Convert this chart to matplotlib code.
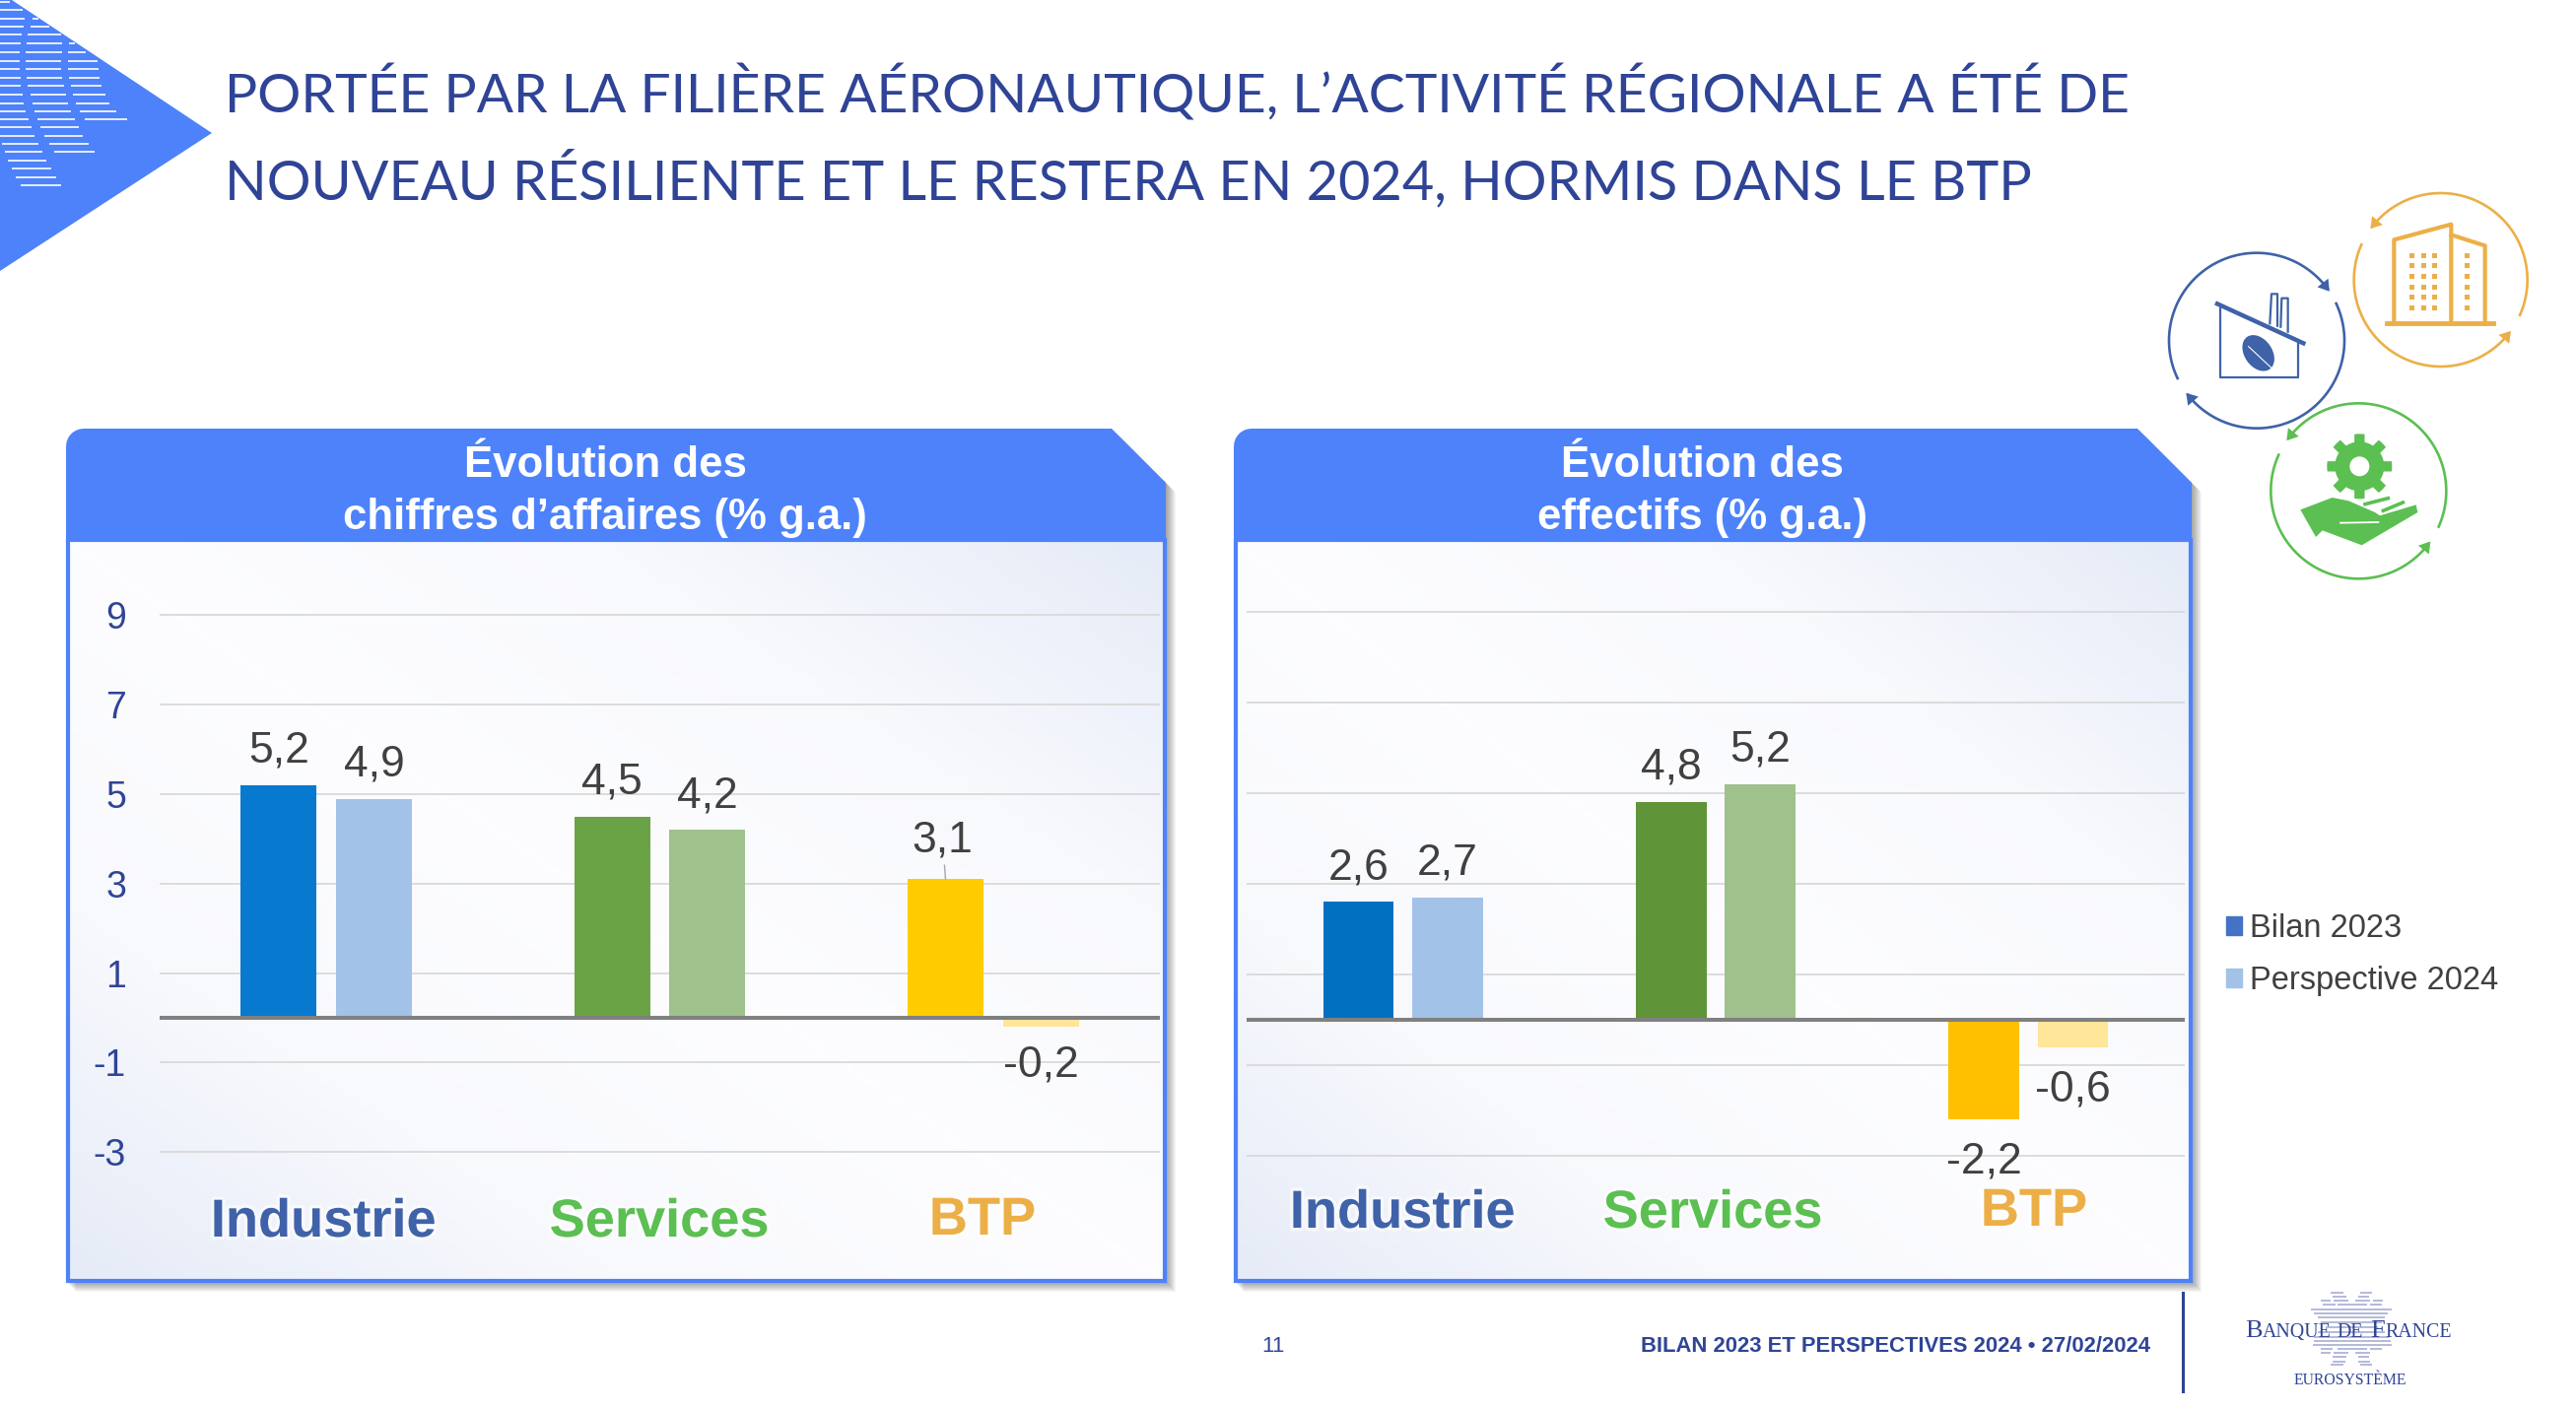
import numpy as np
import matplotlib
matplotlib.use('Agg')
import matplotlib.pyplot as plt
import matplotlib.patheffects as pe
from matplotlib.patches import Patch, Polygon, Rectangle, Ellipse, Circle
from matplotlib.colors import LinearSegmentedColormap

# chart data
categories = ['Industrie', 'Services', 'BTP']
series_names = ['Bilan 2023', 'Perspective 2024']
ca_2023 = [5.2, 4.5, 3.1]
ca_2024 = [4.9, 4.2, -0.2]
eff_2023 = [2.6, 4.8, -2.2]
eff_2024 = [2.7, 5.2, -0.6]
y_ticks = [-3, -1, 1, 3, 5, 7, 9]
ca_colors_2023 = ['#0779CF', '#6AA345', '#FFCC00']
eff_colors_2023 = ['#0070C0', '#5F9538', '#FFC000']
colors_2024 = ['#A3C2E8', '#9FC18C', '#FFE699']
cat_colors = ['#3F62A8', '#5BBF52', '#ECAF47']

title_lines = ['PORTÉE PAR LA FILIÈRE AÉRONAUTIQUE, L’ACTIVITÉ RÉGIONALE A ÉTÉ DE',
               'NOUVEAU RÉSILIENTE ET LE RESTERA EN 2024, HORMIS DANS LE BTP']
footer_text = 'BILAN 2023 ET PERSPECTIVES 2024 • 27/02/2024'

W, H = 2614, 1430
BLUE = '#4D82FB'
NAVY = '#2F4496'
SANS = 'Liberation Sans'

fig = plt.figure(figsize=(W / 100, H / 100), dpi=100, facecolor='white')

# pixel overlays, one behind the charts and one in front
back = fig.add_axes([0, 0, 1, 1], zorder=0)
front = fig.add_axes([0, 0, 1, 1], zorder=5)
for a in (back, front):
    a.set_xlim(0, W)
    a.set_ylim(H, 0)
    a.axis('off')
    a.patch.set_alpha(0)


def draw_corner_triangle():
    back.add_patch(Polygon([(0, -8), (215, 135), (0, 275)], color=BLUE, lw=0))
    rows = [(5, [(0, 30)]), (30, [(0, 70)]), (56, [(0, 75), (100, 118)]),
            (81, [(0, 72), (92, 150)]), (106, [(0, 66), (85, 185)]),
            (133, [(0, 62), (80, 190), (210, 228)]), (159, [(0, 60), (78, 188), (208, 262)]),
            (185, [(0, 60), (77, 186), (207, 298)]), (211, [(0, 60), (78, 187), (208, 299)]),
            (236, [(0, 62), (80, 190), (210, 303)]), (262, [(0, 64), (83, 195), (215, 310)]),
            (289, [(0, 68), (92, 201), (222, 320)]), (314, [(0, 73), (98, 208), (231, 334)]),
            (339, [(0, 79), (106, 217), (242, 355)]), (363, [(0, 87), (114, 228), (257, 387)]),
            (388, [(0, 95), (124, 239)]), (413, [(0, 105), (136, 252)]),
            (439, [(6, 116), (150, 269)]), (463, [(15, 128), (164, 288)]),
            (489, [(25, 141)]), (514, [(37, 155)]), (539, [(49, 171)]), (565, [(62, 187)])]
    for y, segs in rows:
        for x0, x1 in segs:
            back.plot([x0 / 3, x1 / 3], [y / 3, y / 3], color='white', lw=1.2, solid_capstyle='butt')


def draw_panel(x0, x1, title):
    top, head_bot, bot = 435, 548, 1301
    outline = [(x0 + 18, top), (x1 - 55, top), (x1, top + 55), (x1, bot), (x0, bot), (x0, top + 18)]
    for k in range(1, 11):
        shadow = [(x + k, y + k) for x, y in outline]
        back.add_patch(Polygon(shadow, color='black', alpha=0.04, lw=0))

    # pale diagonal gradient of the body
    u, v = np.meshgrid(np.linspace(0, 1, 200), np.linspace(0, 1, 120))
    cmap = LinearSegmentedColormap.from_list('body', ['#FDFDFF', '#F8F9FD', '#E5EBF7'])
    back.imshow(np.abs(u - v), cmap=cmap, vmin=0, vmax=1, extent=(x0, x1, bot, head_bot),
                aspect='auto', zorder=1)
    back.set_xlim(0, W)
    back.set_ylim(H, 0)
    back.add_patch(Rectangle((x0 + 1.5, head_bot), x1 - x0 - 3, bot - head_bot - 1.5, fill=False,
                             ec=BLUE, lw=3, zorder=2))

    t = np.linspace(0, np.pi / 2, 8)
    corner = [(x0 + 18 - 18 * np.cos(a), top + 18 - 18 * np.sin(a)) for a in t]
    header = [(x0, head_bot)] + corner + [(x1 - 55, top), (x1, top + 55), (x1, head_bot)]
    back.add_patch(Polygon(header, color=BLUE, lw=0, zorder=3))

    cx = (x0 + x1) / 2 - 11
    front.text(cx, 473, title[0], color='white', fontsize=31.5, fontweight='bold', family=SANS,
               ha='center', va='center')
    front.text(cx, 525, title[1], color='white', fontsize=31.5, fontweight='bold', family=SANS,
               ha='center', va='center')


def draw_chart(x0, x1, zero_px, unit_px, vals_a, vals_b, colors_a, bar_w, offset, show_ticks,
               neg_dy=-28, leaders=()):
    y_hi, y_lo = 9.2, -3.2
    top_px = zero_px - y_hi * unit_px
    bot_px = zero_px - y_lo * unit_px
    ax = fig.add_axes([x0 / W, 1 - bot_px / H, (x1 - x0) / W, (bot_px - top_px) / H], zorder=2)
    ax.patch.set_alpha(0)
    for s in ax.spines.values():
        s.set_visible(False)
    ax.set_xlim(-0.5, 2.5)
    ax.set_ylim(y_lo, y_hi)
    ax.set_xticks([])
    ax.set_yticks(y_ticks)
    ax.set_yticklabels([str(t) for t in y_ticks], family=SANS)
    ax.grid(axis='y', color='#D9D9D9', lw=1.3)
    ax.set_axisbelow(True)
    ax.tick_params(axis='y', length=0, pad=24.5, labelsize=27, labelcolor=NAVY, labelleft=show_ticks)

    x = np.arange(len(categories))
    ax.bar(x - offset, vals_a, bar_w, color=colors_a, zorder=3)
    ax.bar(x + offset, vals_b, bar_w, color=colors_2024, zorder=3)
    ax.axhline(0, color='#808080', lw=2.9, zorder=4)

    for xs, vals in ((x - offset, vals_a), (x + offset, vals_b)):
        for xi, v in zip(xs, vals):
            txt = f'{v:.1f}'.replace('.', ',')
            dy = 25 if v >= 0 else neg_dy
            if v in leaders:
                ax.annotate(txt, (xi, v), xytext=(-2, dy + 3), textcoords='offset points', ha='center', va='center',
                            fontsize=32, family=SANS, color='#404040', zorder=6,
                            arrowprops=dict(arrowstyle='-', color='#A6A6A6', lw=1, shrinkA=1, shrinkB=0))
            else:
                ax.annotate(txt, (xi, v), xytext=(0, dy), textcoords='offset points', ha='center', va='center',
                            fontsize=32, family=SANS, color='#404040', zorder=6)
    return ax


def arc(cx, cy, r, a0, a1, color):
    t = np.radians(np.linspace(a0, a1, 80))
    xs = cx + r * np.cos(t)
    ys = cy - r * np.sin(t)
    back.plot(xs, ys, color=color, lw=1.9)
    # arrow head at the end of the arc
    dirx, diry = xs[-1] - xs[-3], ys[-1] - ys[-3]
    n = np.hypot(dirx, diry)
    dirx, diry = dirx / n, diry / n
    tip = (xs[-1] + dirx * 3, ys[-1] + diry * 3)
    b = (xs[-1] - dirx * 8, ys[-1] - diry * 8)
    back.add_patch(Polygon([tip, (b[0] - diry * 7, b[1] + dirx * 7), (b[0] + diry * 7, b[1] - dirx * 7)],
                           color=color, lw=0))


def zx(x):
    return 2150 + x / 3


def zy(y):
    return 180 + y / 3


def zp(pts):
    return [(zx(x), zy(y)) for x, y in pts]


def draw_icons():
    ic_blue, ic_orange, ic_green = '#3F62A8', '#ECAF47', '#5BBF52'
    # factory
    cx, cy, r = zx(420), zy(497), 89
    arc(cx, cy, r, 205.5, 36, ic_blue)
    arc(cx, cy, r, 25, -141.5, ic_blue)
    back.plot(*zip(*zp([(310, 400), (310, 610), (545, 610), (545, 505)])), color=ic_blue, lw=1.6)
    back.plot(*zip(*zp([(300, 385), (562, 505)])), color=ic_blue, lw=3.2)
    back.plot(*zip(*zp([(460, 445), (465, 355), (483, 355), (483, 452)])), color=ic_blue, lw=1.6)
    back.plot(*zip(*zp([(493, 455), (496, 368), (515, 368), (515, 470)])), color=ic_blue, lw=1.6)
    back.add_patch(Ellipse((zx(425), zy(535)), 28, 40, angle=-35, color=ic_blue, lw=0))
    back.plot(*zip(*zp([(395, 515), (470, 585)])), color='white', lw=0.8)

    # building
    cx, cy, r = zx(980), zy(312), 88
    arc(cx, cy, r, -24, 142, ic_orange)
    arc(cx, cy, r, 156, 322, ic_orange)
    back.plot(*zip(*zp([(815, 445), (1140, 445)])), color=ic_orange, lw=3.5)
    back.plot(*zip(*zp([(838, 445), (838, 190), (1012, 143), (1012, 445)])), color=ic_orange, lw=3)
    back.plot(*zip(*zp([(1012, 175), (1115, 208), (1115, 445)])), color=ic_orange, lw=3)
    for wy in (237, 269, 301, 333, 365, 397):
        for wx in (892, 927, 960, 1061):
            back.add_patch(Rectangle((zx(wx) - 2.5, zy(wy) - 2.5), 5, 5, color=ic_orange, lw=0))

    # gear and hand
    cx, cy, r = zx(730), zy(955), 89
    arc(cx, cy, r, -24, 143, ic_green)
    arc(cx, cy, r, 155.6, 323, ic_green)
    gx, gy = zx(733), zy(880)
    angs = np.radians(np.arange(0, 360, 3.0))
    rad = np.where(((np.degrees(angs) + 11) % 45) < 22, 33, 25)
    back.add_patch(Polygon(np.c_[gx + rad * np.cos(angs), gy + rad * np.sin(angs)], color=ic_green, lw=0))
    back.add_patch(Circle((gx, gy), 10, color='white', lw=0))
    back.add_patch(Polygon(zp([(553, 1012), (650, 975), (700, 985), (780, 1020), (795, 1030), (905, 997),
                               (910, 1020), (740, 1120), (620, 1075), (600, 1095)]), color=ic_green, lw=0))
    back.plot(*zip(*zp([(675, 1052), (790, 1050)])), color='white', lw=1.3)
    back.plot(*zip(*zp([(750, 995), (820, 977)])), color=ic_green, lw=2.6)
    back.plot(*zip(*zp([(805, 1015), (865, 990)])), color=ic_green, lw=2.6)


def draw_logo():
    star_rows = [(35, [(435, 475), (525, 560)]), (47, [(440, 482), (518, 552)]),
                 (60, [(405, 435), (445, 490), (510, 555), (565, 595)]),
                 (73, [(410, 450), (455, 545), (555, 590)]),
                 (88, [(375, 622)]), (100, [(385, 610)]), (112, [(395, 600)]), (125, [(405, 590)]),
                 (140, [(420, 580)]), (155, [(395, 600)]), (170, [(385, 612)]), (183, [(385, 618)]),
                 (195, [(380, 620)]), (207, [(405, 440), (455, 545), (555, 590)]),
                 (220, [(405, 435), (445, 490), (510, 555)]), (232, [(440, 482), (518, 552)]),
                 (245, [(440, 480), (520, 555)]), (255, [(435, 475), (525, 560)])]
    for y, segs in star_rows:
        py = 1300 + y / 3
        for x0, x1 in segs:
            back.plot([2220 + x0 / 3, 2220 + x1 / 3], [py, py], color='#AEB4D6', lw=1.3, solid_capstyle='butt')

    # small caps by hand: big initials, small rest
    runs = [('B', 19, 0), ('ANQUE', 14.3, 6), ('DE', 14.3, 7), ('F', 19, 0), ('RANCE', 14.3, 0)]
    renderer = fig.canvas.get_renderer()
    texts, total = [], 0
    for s, size, gap in runs:
        t = front.text(0, 1357, s, family='Liberation Serif', fontsize=size, color=NAVY, ha='left', va='baseline')
        w = t.get_window_extent(renderer).width
        texts.append((t, w, gap))
        total += w + gap
    px = 2383 - total / 2
    for t, w, gap in texts:
        t.set_x(px)
        px += w + gap
    front.text(2384.5, 1401, 'EUROSYSTÈME', family='Liberation Serif', fontsize=11.3, color=NAVY,
               ha='center', va='center')


draw_corner_triangle()
front.text(228, 115, title_lines[0], family='Lato', fontsize=39.8, color=NAVY, ha='left', va='baseline')
front.text(228, 202, title_lines[1], family='Lato', fontsize=40.2, color=NAVY, ha='left', va='baseline')

draw_panel(67, 1183, ('Évolution des', 'chiffres d’affaires (% g.a.)'))
draw_panel(1252, 2224, ('Évolution des', 'effectifs (% g.a.)'))

ax1 = draw_chart(162, 1177, 1033, 45.4, ca_2023, ca_2024, ca_colors_2023, 0.227, 0.143, True, leaders=(3.1,))
ax2 = draw_chart(1265, 2217, 1035, 46.0, eff_2023, eff_2024, eff_colors_2023, 0.226, 0.142, False, neg_dy=-31)

# category names are text boxes on the slide, not tick labels
cat_pos_left = [(328, 1241), (669, 1241), (997, 1239)]
cat_pos_right = [(1423, 1232), (1738, 1232), (2064, 1230)]
for pos in (cat_pos_left, cat_pos_right):
    for name, col, (px, py) in zip(categories, cat_colors, pos):
        front.text(px, py, name, family=SANS, fontweight='bold', fontsize=39, color=col, ha='center', va='center',
                   path_effects=[pe.withStroke(linewidth=5, foreground='white', alpha=0.55)])

# legend
handles = [Patch(color='#4472C4', label=series_names[0]), Patch(color='#A3C2E8', label=series_names[1])]
leg = front.legend(handles=handles, loc='center left', bbox_to_anchor=(2259, 969),
                   bbox_transform=front.transData, frameon=False,
                   prop={'family': SANS, 'size': 23.5}, labelcolor='#404040',
                   handlelength=0.5, handleheight=0.5, handletextpad=0.25, labelspacing=0.68,
                   borderpad=0, borderaxespad=0)

draw_icons()
draw_logo()

# footer
front.text(1292, 1367, '11', family=SANS, fontsize=16, color=NAVY, ha='center', va='center')
front.text(2182, 1366, footer_text, family=SANS, fontweight='bold', fontsize=15.8, color=NAVY, ha='right', va='center')
front.plot([2215, 2215], [1312, 1412], color=NAVY, lw=2.2)

fig.savefig('out.png', dpi=100)
